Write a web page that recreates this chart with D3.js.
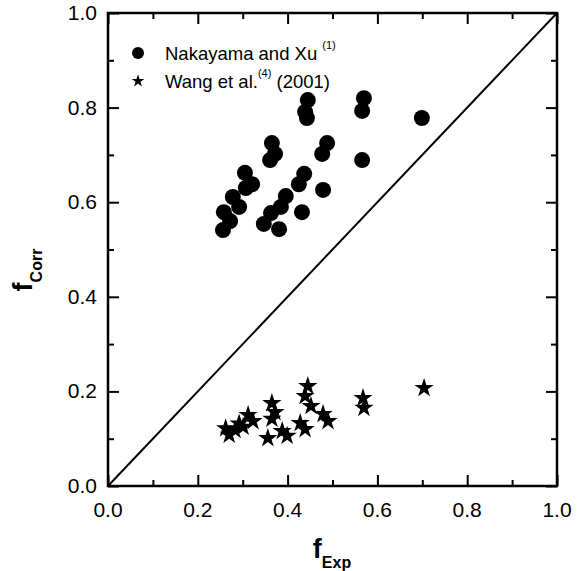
<!DOCTYPE html>
<html>
<head>
<meta charset="utf-8">
<script src="https://cdn.jsdelivr.net/npm/d3@7"></script>
<style>
   body { margin: 0; background: #fff; }
   text { font-family: 'Liberation Sans', Arial, sans-serif; fill: #000; }
</style>
</head>
<body>
<div id="chart"></div>
<script>
// Nakayama and Xu (1)
const nakayamaX = [0.445, 0.439, 0.443, 0.570, 0.566, 0.699, 0.365, 0.372, 0.361, 0.488,
   0.477, 0.566, 0.479, 0.305, 0.321, 0.307, 0.278, 0.292, 0.258, 0.272,
   0.256, 0.437, 0.425, 0.396, 0.385, 0.363, 0.347, 0.381, 0.432];
const nakayamaY = [0.816, 0.791, 0.778, 0.820, 0.793, 0.778, 0.725, 0.702, 0.689, 0.725,
   0.702, 0.689, 0.626, 0.662, 0.638, 0.630, 0.611, 0.590, 0.579, 0.560,
   0.541, 0.660, 0.638, 0.613, 0.590, 0.577, 0.554, 0.543, 0.579];

// Wang et al. (4) (2001)
const wangX = [0.445, 0.439, 0.452, 0.479, 0.490, 0.568, 0.570, 0.704, 0.365, 0.372,
   0.365, 0.312, 0.323, 0.301, 0.428, 0.439, 0.388, 0.399, 0.356, 0.262,
   0.270, 0.283, 0.292];
const wangY = [0.211, 0.190, 0.169, 0.152, 0.137, 0.186, 0.165, 0.207, 0.175, 0.156,
   0.142, 0.150, 0.137, 0.125, 0.133, 0.120, 0.116, 0.106, 0.101, 0.122,
   0.108, 0.118, 0.132];

const majorTicks = [0.0, 0.2, 0.4, 0.6, 0.8, 1.0];
const minorTicks = [0.1, 0.3, 0.5, 0.7, 0.9];

const width = 581, height = 571;
const margin = { top: 13, right: 24, bottom: 85, left: 108 };

const svg = d3.select('#chart').append('svg')
   .attr('width', width)
   .attr('height', height);

const x = d3.scaleLinear().domain([0, 1]).range([margin.left, width - margin.right]);
const y = d3.scaleLinear().domain([0, 1]).range([height - margin.bottom, margin.top]);

const fmt = d3.format('.1f');

// ticks point inward on all four sides
const axes = [
   { axis: d3.axisBottom(x), t: `translate(0,${y(0)})` },
   { axis: d3.axisTop(x), t: `translate(0,${y(1)})` },
   { axis: d3.axisLeft(y), t: `translate(${x(0)},0)` },
   { axis: d3.axisRight(y), t: `translate(${x(1)},0)` },
];
axes.forEach((a) => {
   svg.append('g').attr('transform', a.t)
      .call(a.axis.tickValues(majorTicks).tickSizeInner(-11).tickSizeOuter(0).tickFormat(''))
      .call((g) => g.select('.domain').remove())
      .selectAll('line').attr('stroke', '#000').attr('stroke-width', 2);
   svg.append('g').attr('transform', a.t)
      .call(a.axis.tickValues(minorTicks).tickSizeInner(-6).tickSizeOuter(0).tickFormat(''))
      .call((g) => g.select('.domain').remove())
      .selectAll('line').attr('stroke', '#000').attr('stroke-width', 2);
});

// frame
svg.append('rect')
   .attr('x', x(0)).attr('y', y(1))
   .attr('width', x(1) - x(0)).attr('height', y(0) - y(1))
   .attr('fill', 'none').attr('stroke', '#000').attr('stroke-width', 2.5);

// tick labels
svg.selectAll('.xlab').data(majorTicks).join('text')
   .attr('x', (d) => x(d)).attr('y', y(0) + 31)
   .attr('text-anchor', 'middle').attr('font-size', 21)
   .text(fmt);
svg.selectAll('.ylab').data(majorTicks).join('text')
   .attr('x', x(0) - 11).attr('y', (d) => y(d) + 7)
   .attr('text-anchor', 'end').attr('font-size', 21)
   .text(fmt);

// y = x line
svg.append('line')
   .attr('x1', x(0)).attr('y1', y(0)).attr('x2', x(1)).attr('y2', y(1))
   .attr('stroke', '#000').attr('stroke-width', 2);

// points
const circles = nakayamaX.map((d, i) => ({ x: d, y: nakayamaY[i] }));
const stars = wangX.map((d, i) => ({ x: d, y: wangY[i] }));

svg.append('g').selectAll('circle').data(circles).join('circle')
   .attr('cx', (d) => x(d.x)).attr('cy', (d) => y(d.y))
   .attr('r', 8).attr('fill', '#000');

const star = d3.symbol().type(d3.symbolStar).size(115);
svg.append('g').selectAll('path').data(stars).join('path')
   .attr('transform', (d) => `translate(${x(d.x)},${y(d.y)})`)
   .attr('d', star).attr('fill', '#000');

// legend
svg.append('circle').attr('cx', 138).attr('cy', 53).attr('r', 6).attr('fill', '#000');
svg.append('path').attr('transform', 'translate(138,81)')
   .attr('d', d3.symbol().type(d3.symbolStar).size(50)).attr('fill', '#000');

const l1 = svg.append('text').attr('x', 165).attr('y', 60).attr('font-size', 18.5);
l1.append('tspan').text('Nakayama and Xu ');
l1.append('tspan').attr('dy', -11).attr('font-size', 11).text('(1)');

const l2 = svg.append('text').attr('x', 165).attr('y', 88).attr('font-size', 18.5);
l2.append('tspan').text('Wang et al.');
l2.append('tspan').attr('dy', -11).attr('font-size', 11).text('(4)');
l2.append('tspan').attr('dy', 11).text(' (2001)');

// axis titles
const xt = svg.append('text')
   .attr('x', 332).attr('y', 558)
   .attr('text-anchor', 'middle').attr('font-weight', 'bold').attr('font-size', 27);
xt.append('tspan').text('f');
xt.append('tspan').attr('dy', 10).attr('font-size', 16).text('Exp');

const yt = svg.append('text')
   .attr('transform', 'translate(32,270) rotate(-90)')
   .attr('text-anchor', 'middle').attr('font-weight', 'bold').attr('font-size', 27);
yt.append('tspan').text('f');
yt.append('tspan').attr('dy', 10).attr('font-size', 16).text('Corr');
</script>
</body>
</html>
